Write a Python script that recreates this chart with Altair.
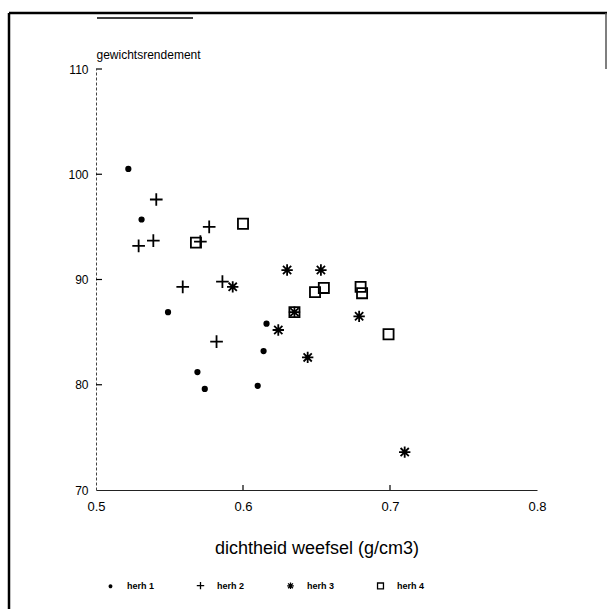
import altair as alt
import pandas as pd

# ---- data ----
series_names = ["herh 1", "herh 2", "herh 3", "herh 4"]
x1 = [0.522, 0.531, 0.549, 0.569, 0.574, 0.616, 0.614, 0.610]
y1 = [100.5, 95.7, 86.9, 81.2, 79.6, 85.8, 83.2, 79.9]
x2 = [0.541, 0.529, 0.539, 0.577, 0.571, 0.559, 0.586, 0.582]
y2 = [97.6, 93.2, 93.7, 95.0, 93.6, 89.3, 89.8, 84.1]
x3 = [0.593, 0.630, 0.653, 0.635, 0.624, 0.679, 0.644, 0.710]
y3 = [89.3, 90.9, 90.9, 86.9, 85.2, 86.5, 82.6, 73.6]
x4 = [0.600, 0.568, 0.649, 0.655, 0.680, 0.681, 0.699, 0.635]
y4 = [95.3, 93.5, 88.8, 89.2, 89.3, 88.7, 84.8, 86.9]
x_ticks = [0.5, 0.6, 0.7, 0.8]
y_ticks = [70, 80, 90, 100, 110]
y_inner_ticks = [80, 90, 100, 110]
x_inner_ticks = [0.6, 0.7]

rows = []
for name, xs, ys in zip(series_names, [x1, x2, x3, x4], [y1, y2, y3, y4]):
    for a, b in zip(xs, ys):
        rows.append({"dichtheid": a, "rendement": b, "reeks": name})
df = pd.DataFrame(rows)

FONT = "Liberation Sans"
W, H = 441, 421

dot = "M-0.35,0A0.35,0.35 0 1,0 0.35,0A0.35,0.35 0 1,0 -0.35,0Z"
plus = "M-1,0H1M0,-1V1"
star = "M-0.9,0H0.9M0,-0.9V0.9M-0.65,-0.65L0.65,0.65M-0.65,0.65L0.65,-0.65"
square = "M-0.8,-0.8H0.8V0.8H-0.8Z"

xscale = alt.Scale(domain=[0.5, 0.8], nice=False, zero=False)
yscale = alt.Scale(domain=[70, 110], nice=False, zero=False)

leg_common = dict(title=None, orient="none", direction="horizontal", columns=4,
                  legendX=10, legendY=512)

points = alt.Chart(df).mark_point(strokeWidth=1.8, size=160, opacity=1).encode(
    x=alt.X("dichtheid:Q", scale=xscale,
            axis=alt.Axis(values=x_ticks, format=".1f", title="dichtheid weefsel (g/cm3)",
                          ticks=False, grid=False, domainColor="#222", domainWidth=1.2,
                          labelFont=FONT, labelFontSize=13, labelColor="black", labelPadding=10,
                          labelFlush=False,
                          titleFont=FONT, titleFontSize=18, titleFontWeight="normal",
                          titleColor="black", titlePadding=26)),
    y=alt.Y("rendement:Q", scale=yscale,
            axis=alt.Axis(values=y_ticks, format="d", title="gewichtsrendement",
                          ticks=False, grid=False, domainColor="#444", domainDash=[3, 2],
                          labelFont=FONT, labelFontSize=12, labelColor="black", labelPadding=8,
                          titleFont=FONT, titleFontSize=12, titleFontWeight="normal",
                          titleColor="black", titleAngle=0, titleAlign="left",
                          titleBaseline="bottom", titleX=0, titleY=-8)),
    shape=alt.Shape("reeks:N", scale=alt.Scale(domain=series_names, range=[dot, plus, star, square]),
                    legend=alt.Legend(symbolSize=55, symbolStrokeWidth=1.3,
                                      labelFont=FONT, labelFontSize=9, labelFontWeight="bold",
                                      labelColor="black", labelOffset=12, columnPadding=39,
                                      **leg_common)),
    fill=alt.Fill("reeks:N", scale=alt.Scale(domain=series_names,
                                             range=["black", "transparent", "transparent", "transparent"]),
                  legend=alt.Legend(**leg_common)),
    stroke=alt.Stroke("reeks:N", scale=alt.Scale(domain=series_names,
                                                 range=["black", "black", "black", "black"]),
                      legend=alt.Legend(**leg_common)),
)

ytick_df = pd.DataFrame({"v": y_inner_ticks})
yticks = alt.Chart(ytick_df).mark_rule(color="black", strokeWidth=1.2).encode(
    y=alt.Y("v:Q", scale=yscale), x=alt.value(0), x2=alt.value(6))

xtick_df = pd.DataFrame({"v": x_inner_ticks})
xticks = alt.Chart(xtick_df).mark_rule(color="black", strokeWidth=1.2).encode(
    x=alt.X("v:Q", scale=xscale), y=alt.value(H), y2=alt.value(H - 5))

one = pd.DataFrame({"a": [0]})
frame_left = alt.Chart(one).mark_rule(color="black", strokeWidth=2.5).encode(
    x=alt.value(-87), y=alt.value(-56), y2=alt.value(H + 130))
frame_top = alt.Chart(one).mark_rule(color="black", strokeWidth=2.5).encode(
    x=alt.value(-87), x2=alt.value(511), y=alt.value(-56))
frame_right = alt.Chart(one).mark_rule(color="#555", strokeWidth=1.5).encode(
    x=alt.value(510), y=alt.value(-56), y2=alt.value(0))
deco = alt.Chart(one).mark_rule(color="black", strokeWidth=1.5).encode(
    x=alt.value(1), x2=alt.value(97), y=alt.value(-51))

chart = alt.layer(points, yticks, xticks, frame_left, frame_top, frame_right, deco).properties(
    width=W, height=H,
    background="white",
    padding={"left": 96, "top": 69, "right": 71, "bottom": 119},
    autosize=alt.AutoSizeParams(type="none"),
).configure_view(strokeWidth=0, stroke="transparent")

chart.save("out.html", embed_options={"renderer": "svg", "actions": False})
